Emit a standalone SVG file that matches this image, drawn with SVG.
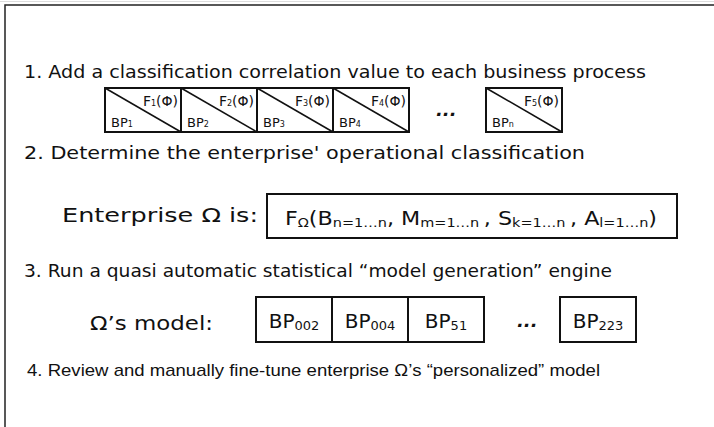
<svg xmlns="http://www.w3.org/2000/svg" width="714" height="427" viewBox="0 0 714 427">
<style>
.t{font-family:"DejaVu Sans",Verdana,sans-serif;fill:#111}
.h{font-size:18px}
.big{font-size:20px}
.s{font-family:"Liberation Sans",Arial,sans-serif;fill:#111;font-size:17px}
.box{fill:#fff;stroke:#111;stroke-width:2}
.diag{stroke:#111;stroke-width:1.5}
.f{font-size:14px}
.bp{font-size:13px}
.dots{font-family:"DejaVu Sans",sans-serif;font-weight:bold;font-style:italic;font-size:18px;fill:#111}
</style>
<rect width="714" height="427" fill="#fff"/>
<line x1="0" y1="1.5" x2="714" y2="1.5" stroke="#ddd" stroke-width="1"/>
<path d="M5 427 V5 H714" fill="none" stroke="#222" stroke-width="1.5"/>

<text class="t h" x="24" y="78" textLength="622" lengthAdjust="spacingAndGlyphs">1. Add a classification correlation value to each business process</text>

<g id="bp1"><rect class="box" x="105" y="88" width="76" height="44"/><line class="diag" x1="105" y1="88" x2="181" y2="132"/><text class="t f" x="178" y="106" text-anchor="end">F<tspan font-size="8">1</tspan>(Φ)</text><text class="t bp" x="111" y="127">BP<tspan font-size="8">1</tspan></text></g>
<g id="bp2"><rect class="box" x="181" y="88" width="76" height="44"/><line class="diag" x1="181" y1="88" x2="257" y2="132"/><text class="t f" x="254" y="106" text-anchor="end">F<tspan font-size="8">2</tspan>(Φ)</text><text class="t bp" x="187" y="127">BP<tspan font-size="8">2</tspan></text></g>
<g id="bp3"><rect class="box" x="257" y="88" width="76" height="44"/><line class="diag" x1="257" y1="88" x2="333" y2="132"/><text class="t f" x="330" y="106" text-anchor="end">F<tspan font-size="8">3</tspan>(Φ)</text><text class="t bp" x="263" y="127">BP<tspan font-size="8">3</tspan></text></g>
<g id="bp4"><rect class="box" x="333" y="88" width="76" height="44"/><line class="diag" x1="333" y1="88" x2="409" y2="132"/><text class="t f" x="406" y="106" text-anchor="end">F<tspan font-size="8">4</tspan>(Φ)</text><text class="t bp" x="339" y="127">BP<tspan font-size="8">4</tspan></text></g>
<text class="dots" x="436" y="116">...</text>
<g id="bpn"><rect class="box" x="486" y="88" width="76" height="44"/><line class="diag" x1="486" y1="88" x2="562" y2="132"/><text class="t f" x="559" y="106" text-anchor="end">F<tspan font-size="8">5</tspan>(Φ)</text><text class="t bp" x="492" y="127">BP<tspan font-size="8">n</tspan></text></g>

<text class="t h" x="24" y="159" textLength="561" lengthAdjust="spacingAndGlyphs">2. Determine the enterprise' operational classification</text>

<text class="t big" x="62" y="222" textLength="196" lengthAdjust="spacingAndGlyphs">Enterprise Ω is:</text>
<g id="formula"><rect class="box" x="267" y="194" width="410" height="44"/>
<text class="t big" x="285" y="225" textLength="372" lengthAdjust="spacingAndGlyphs">F<tspan font-size="13" dy="2">Ω</tspan><tspan dy="-2">(B</tspan><tspan font-size="13" dy="2">n=1…n</tspan><tspan dy="-2">, M</tspan><tspan font-size="13" dy="2">m=1…n </tspan><tspan dy="-2">, S</tspan><tspan font-size="13" dy="2">k=1…n </tspan><tspan dy="-2">, A</tspan><tspan font-size="13" dy="2">l=1…n</tspan><tspan dy="-2">)</tspan></text></g>

<text class="t h" x="24" y="277" textLength="588" lengthAdjust="spacingAndGlyphs">3. Run a quasi automatic statistical “model generation” engine</text>

<text class="t big" x="90" y="330" textLength="123" lengthAdjust="spacingAndGlyphs">Ω’s model:</text>
<g id="m1"><rect class="box" x="256" y="297" width="76" height="45"/><text class="t big" x="294" y="328" text-anchor="middle">BP<tspan font-size="13" dy="2">002</tspan></text></g>
<g id="m2"><rect class="box" x="332" y="297" width="76" height="45"/><text class="t big" x="370" y="328" text-anchor="middle">BP<tspan font-size="13" dy="2">004</tspan></text></g>
<g id="m3"><rect class="box" x="408" y="297" width="76" height="45"/><text class="t big" x="446" y="328" text-anchor="middle">BP<tspan font-size="13" dy="2">51</tspan></text></g>
<text class="dots" x="517" y="327">...</text>
<g id="m4"><rect class="box" x="560" y="297" width="76" height="45"/><text class="t big" x="598" y="328" text-anchor="middle">BP<tspan font-size="13" dy="2">223</tspan></text></g>

<text class="s" x="27" y="376" textLength="573" lengthAdjust="spacingAndGlyphs">4. Review and manually fine-tune enterprise Ω’s “personalized” model</text>
</svg>
